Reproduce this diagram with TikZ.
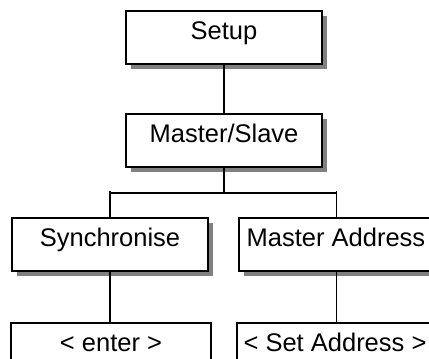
\documentclass[tikz,border=0pt]{standalone}
\usepackage{fontspec}
\setmainfont{Liberation Sans}
\begin{document}
\begin{tikzpicture}[x=1pt,y=-1pt,
  box/.style={draw=black, line width=1.2pt, fill=white, inner sep=0pt,
    minimum height=53pt, text height=18pt, text depth=15pt,
    font=\fontsize{25.5}{30}\selectfont},
  shadowfill/.style={fill=black!50, draw=none},
  conn/.style={draw=black, line width=1.2pt}]
\useasboundingbox (0,0) rectangle (429,359);
% drop shadows
\path[shadowfill] (130.5,15.5) rectangle (326.5,68.5);
\path[shadowfill] (130.5,118.5) rectangle (326.5,171.5);
\path[shadowfill] (16.5,222.5) rectangle (212.5,275.5);
\path[shadowfill] (243.5,222.5) rectangle (429,275.5);
% boxes
\node[box, minimum width=196pt] (setup) at (224,37.5) {Setup};
\node[box, minimum width=196pt] (ms) at (224,140.5) {Master/Slave};
\node[box, minimum width=196pt] (sync) at (110,244.5) {Synchronise};
\node[box, minimum width=194pt] (maddr) at (336,244.5) {Master Address};
\node[box, minimum width=200pt] (enter) at (111,349.5) {< enter >};
\node[box, minimum width=196pt] (setaddr) at (335,349.5) {< Set Address >};
% connectors
\coordinate (jm) at (224,193);
\coordinate (jl) at (110,193);
\coordinate (jr) at (336.5,193);
\draw[conn] (setup) -- (ms);
\draw[conn] (ms.south) -- (jm);
\draw[conn] (jl) -- (jr);
\draw[conn] ([yshift=2pt]jl) -- (sync.north);
\draw[conn] ([yshift=2pt]jr) -- (jr |- maddr.north);
\draw[conn] (sync.south) -- (sync.south |- enter.north);
\draw[conn] (jr |- maddr.south) -- (jr |- setaddr.north);
\end{tikzpicture}
\end{document}
